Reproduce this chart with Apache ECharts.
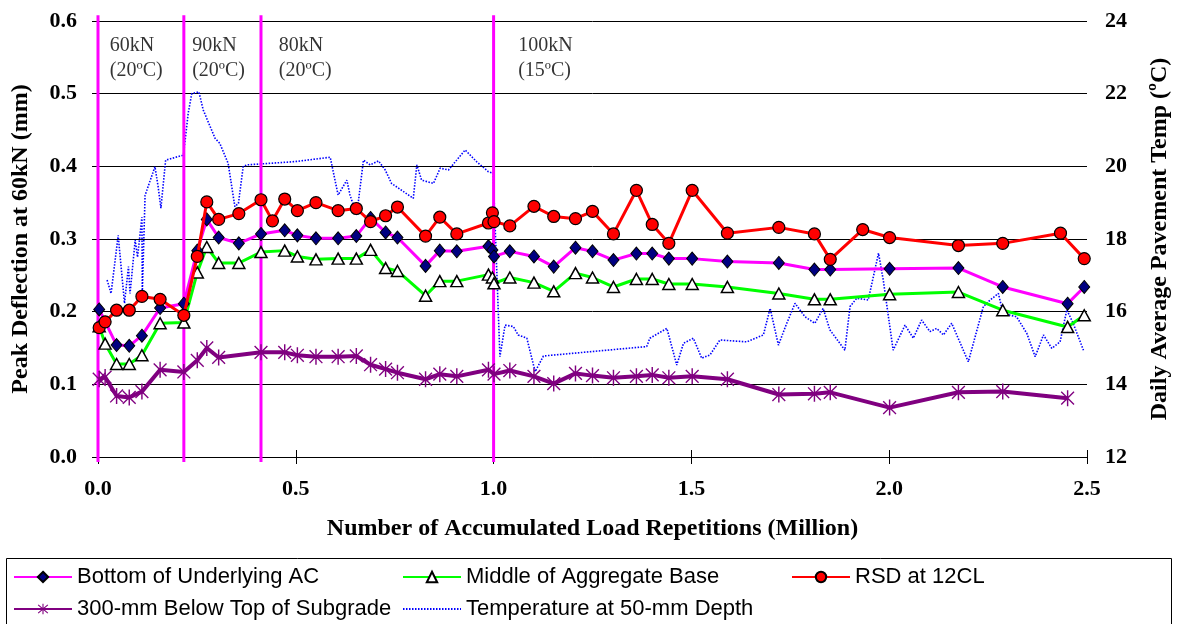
<!DOCTYPE html>
<html>
<head>
<meta charset="utf-8">
<script src="https://cdn.jsdelivr.net/npm/echarts@6/dist/echarts.min.js"></script>
<style>
html, body { margin: 0; padding: 0; background: #ffffff; }
#chart { width: 1180px; height: 624px; }
</style>
</head>
<body>
<div id="chart"></div>
<script>
// Accumulated load repetitions (million) at each deflection reading
const loadReps = [0.003, 0.018, 0.047, 0.079, 0.111, 0.157, 0.217, 0.251, 0.275, 0.305, 0.356, 0.412,
  0.441, 0.472, 0.504, 0.551, 0.607, 0.653, 0.689, 0.727, 0.757, 0.828, 0.864, 0.907,
  0.987, 0.997, 1.001, 1.041, 1.102, 1.152, 1.207, 1.250, 1.303, 1.361, 1.401, 1.443,
  1.502, 1.591, 1.721, 1.811, 1.851, 1.933, 2.001, 2.175, 2.287, 2.433, 2.451, 2.493];

// Peak deflections at 60 kN (mm); null where a depth was not read
const bottomAC = [0.203, null, 0.154, 0.153, 0.167, 0.205, 0.211, 0.284, 0.327, 0.302, 0.294, 0.307,
  null, 0.312, 0.305, 0.301, 0.301, 0.304, 0.329, 0.309, 0.302, 0.263, 0.284, 0.283,
  0.290, 0.285, 0.276, 0.283, 0.276, 0.262, 0.288, 0.283, 0.271, 0.280, 0.280, 0.273,
  0.273, 0.269, 0.267, 0.258, 0.258, null, 0.259, 0.260, 0.234, null, 0.211, 0.234];

const middleBase = [0.180, 0.156, 0.128, 0.128, 0.140, 0.184, 0.185, 0.254, 0.289, 0.267, 0.267, 0.282,
  null, 0.284, 0.276, 0.272, 0.273, 0.273, 0.285, 0.260, 0.256, 0.222, 0.242, 0.242,
  0.251, 0.247, 0.239, 0.247, 0.240, 0.228, 0.253, 0.247, 0.234, 0.245, 0.245, 0.238,
  0.238, 0.234, 0.225, 0.217, 0.217, null, 0.224, 0.227, 0.202, null, 0.179, 0.195];

const rsd12CL = [0.178, 0.186, 0.202, 0.202, 0.221, 0.217, 0.195, 0.276, 0.351, 0.327, 0.335, 0.354,
  0.325, 0.355, 0.339, 0.350, 0.339, 0.342, 0.324, 0.332, 0.344, 0.304, 0.330, 0.307,
  0.322, 0.336, 0.324, 0.318, 0.345, 0.331, 0.328, 0.338, 0.307, 0.367, 0.320, 0.294,
  0.367, 0.308, 0.316, 0.307, 0.272, 0.313, 0.302, 0.291, 0.294, 0.308, null, 0.273];

const subgrade300 = [0.107, 0.110, 0.084, 0.082, 0.090, 0.120, 0.117, 0.133, 0.150, 0.137, null, 0.144,
  null, 0.144, 0.140, 0.138, 0.138, 0.139, 0.127, 0.121, 0.116, 0.107, 0.114, 0.111,
  0.120, null, 0.114, 0.119, 0.111, 0.101, 0.115, 0.112, 0.109, 0.111, 0.113, 0.109,
  0.111, 0.107, 0.086, 0.087, 0.089, null, 0.068, 0.089, 0.090, null, 0.081, null];

// Daily average pavement temperature at 50 mm depth (°C)
const tempReps = [0.023, 0.033, 0.051, 0.067, 0.077, 0.081, 0.094, 0.100, 0.111, 0.112, 0.119, 0.144,
  0.152, 0.159, 0.171, 0.216, 0.228, 0.237, 0.255, 0.266, 0.296, 0.308, 0.329, 0.346,
  0.355, 0.367, 0.376, 0.498, 0.587, 0.607, 0.629, 0.637, 0.654, 0.671, 0.688, 0.709,
  0.726, 0.742, 0.797, 0.806, 0.818, 0.848, 0.865, 0.886, 0.928, 0.957, 0.987, 0.999,
  1.016, 1.029, 1.050, 1.062, 1.084, 1.105, 1.126, 1.387, 1.395, 1.438, 1.463, 1.480,
  1.505, 1.526, 1.547, 1.572, 1.640, 1.682, 1.699, 1.720, 1.741, 1.762, 1.787, 1.812,
  1.833, 1.850, 1.888, 1.901, 1.918, 1.947, 1.973, 1.985, 2.010, 2.040, 2.061, 2.082,
  2.103, 2.120, 2.137, 2.158, 2.200, 2.238, 2.255, 2.276, 2.288, 2.322, 2.348, 2.369,
  2.390, 2.411, 2.432, 2.449, 2.465, 2.491];
const tempC = [16.87, 16.50, 18.10, 16.23, 17.24, 16.50, 17.97, 17.50, 18.60, 16.50, 19.20, 19.99,
  19.44, 18.85, 20.17, 20.31, 21.46, 22.00, 22.05, 21.55, 20.77, 20.63, 20.08, 18.89,
  18.98, 19.99, 20.04, 20.13, 20.25, 19.21, 19.62, 19.21, 18.66, 20.17, 20.04, 20.15,
  19.90, 19.53, 19.12, 20.04, 19.62, 19.53, 19.95, 19.90, 20.45, 20.13, 19.85, 19.81,
  14.76, 15.63, 15.59, 15.36, 15.27, 14.35, 14.78, 15.04, 15.27, 15.54, 14.53, 15.13,
  15.27, 14.72, 14.81, 15.22, 15.17, 15.36, 16.09, 15.08, 15.68, 16.23, 15.86, 15.68,
  16.09, 15.50, 14.94, 16.14, 16.37, 16.32, 17.61, 16.87, 14.94, 15.63, 15.27, 15.77,
  15.45, 15.54, 15.36, 15.68, 14.62, 16.14, 16.32, 16.50, 15.95, 15.86, 15.40, 14.76,
  15.36, 14.99, 15.17, 16.05, 15.68, 14.94];

// Loading phase boundaries (million reps) and phase captions
const phaseBounds = [0, 0.217, 0.412, 1.0];
const phaseLabelX = [0.030, 0.238, 0.457, 1.062];
const phaseLabels = ['60kN\n(20ºC)', '90kN\n(20ºC)', '80kN\n(20ºC)', '100kN\n(15ºC)'];
const phaseLabelY = 0.583;

// Axis ticks
const deflTicks = { min: 0, max: 0.6, step: 0.1 };
const tempTicks = { min: 12, max: 24, step: 2 };
const repTicks = { min: 0, max: 2.5, step: 0.5 };

const SERIF = 'Liberation Serif';
const SANS = 'Liberation Sans';

const pairs = (xs, ys) => xs.map((x, i) => [x, ys[i]]).filter(p => p[1] !== null);

const ASTERISK = 'path://M9.1,0h1.8v20h-1.8z M2.6,1.4L18.6,17.4L17.4,18.6L1.4,2.6z M17.4,1.4L18.6,2.6L2.6,18.6L1.4,17.4z';

const names = {
  ac: 'Bottom of Underlying AC',
  base: 'Middle of Aggregate Base',
  rsd: 'RSD at 12CL',
  sub: '300-mm Below Top of Subgrade',
  temp: 'Temperature at 50-mm Depth'
};

const chart = echarts.init(document.getElementById('chart'), null, { renderer: 'canvas' });

const legendBase = {
  padding: 0,
  itemWidth: 58,
  itemHeight: 13,
  itemGap: 0,
  textStyle: { fontFamily: SANS, fontSize: 22, color: '#000' },
  selectedMode: false
};

const boundarySeries = phaseBounds.map((b, i) => ({
  name: 'phase' + i,
  type: 'line',
  data: [[b, -0.007], [b, 0.608]],
  showSymbol: false,
  symbol: 'none',
  clip: false,
  silent: true,
  lineStyle: { color: '#ff00ff', width: 3 },
  z: 3
}));

const nameStyle = { fontFamily: SERIF, fontWeight: 'bold', fontSize: 24, color: '#000' };
const tickStyle = { fontFamily: SERIF, fontWeight: 'bold', fontSize: 22, color: '#000' };

const option = {
  animation: false,
  backgroundColor: '#ffffff',
  grid: { left: 98, right: 93, top: 21, bottom: 167, containLabel: false },
  legend: [
    Object.assign({}, legendBase, { data: [names.ac], left: 13, top: 566 }),
    Object.assign({}, legendBase, { data: [names.base], left: 402, top: 566 }),
    Object.assign({}, legendBase, { data: [names.rsd], left: 791, top: 566 }),
    Object.assign({}, legendBase, { data: [names.sub], left: 13, top: 598 }),
    Object.assign({}, legendBase, {
      data: [names.temp], left: 402, top: 598,
      itemStyle: { opacity: 0 }
    })
  ],
  graphic: [{
    type: 'rect',
    shape: { x: 6.5, y: 558.5, width: 1165, height: 90 },
    style: { fill: 'none', stroke: '#000', lineWidth: 1 },
    silent: true
  }],
  xAxis: [{
    type: 'value',
    position: 'bottom',
    min: repTicks.min, max: repTicks.max, interval: repTicks.step,
    name: 'Number of Accumulated Load Repetitions (Million)',
    nameLocation: 'middle',
    nameGap: 60,
    nameTextStyle: nameStyle,
    axisLine: { show: true, lineStyle: { color: '#000', width: 1 } },
    axisTick: { show: true, inside: false, length: 7, lineStyle: { color: '#000' } },
    axisLabel: Object.assign({ margin: 21, formatter: v => v.toFixed(1) }, tickStyle),
    splitLine: { show: false }
  }, {
    type: 'value',
    position: 'bottom',
    min: repTicks.min, max: repTicks.max, interval: repTicks.step,
    axisLine: { show: false },
    axisTick: { show: true, inside: true, length: 7, lineStyle: { color: '#000' } },
    axisLabel: { show: false },
    splitLine: { show: false }
  }],
  yAxis: [{
    type: 'value',
    position: 'left',
    min: deflTicks.min, max: deflTicks.max, interval: deflTicks.step,
    name: 'Peak Deflection at 60kN (mm)',
    nameLocation: 'middle',
    nameGap: 65,
    nameTextStyle: nameStyle,
    axisLine: { show: true, lineStyle: { color: '#000', width: 1 } },
    axisTick: { show: true, inside: false, length: 6, lineStyle: { color: '#000' } },
    axisLabel: Object.assign({ margin: 21, formatter: v => v.toFixed(1) }, tickStyle),
    splitLine: { show: true, lineStyle: { color: '#000', width: 1 } }
  }, {
    type: 'value',
    position: 'right',
    min: tempTicks.min, max: tempTicks.max, interval: tempTicks.step,
    name: 'Daily Average Pavement Temp (ºC)',
    nameLocation: 'middle',
    nameGap: 61,
    nameTextStyle: nameStyle,
    axisLine: { show: true, lineStyle: { color: '#000', width: 1 } },
    axisTick: { show: true, inside: false, length: 8, lineStyle: { color: '#000' } },
    axisLabel: Object.assign({ margin: 18 }, tickStyle),
    splitLine: { show: false }
  }],
  series: [
    {
      name: names.temp,
      type: 'line',
      yAxisIndex: 1,
      data: pairs(tempReps, tempC),
      showSymbol: false,
      symbol: 'none',
      lineStyle: { color: '#0000ff', width: 1.6, type: [1.5, 1.5] },
      itemStyle: { color: '#0000ff' },
      z: 2
    },
    ...boundarySeries,
    {
      name: names.sub,
      type: 'line',
      data: pairs(loadReps, subgrade300),
      connectNulls: true,
      symbol: ASTERISK,
      symbolKeepAspect: true,
      symbolSize: 16,
      lineStyle: { color: '#800080', width: 4 },
      itemStyle: { color: '#800080' },
      z: 4
    },
    {
      name: names.base,
      type: 'line',
      data: pairs(loadReps, middleBase),
      connectNulls: true,
      symbol: 'triangle',
      symbolSize: [12, 11],
      lineStyle: { color: '#00ff00', width: 3 },
      itemStyle: { color: '#ffffff', borderColor: '#000', borderWidth: 1.5 },
      z: 5
    },
    {
      name: names.ac,
      type: 'line',
      data: pairs(loadReps, bottomAC),
      connectNulls: true,
      symbol: 'diamond',
      symbolSize: [11, 13],
      lineStyle: { color: '#ff00ff', width: 3 },
      itemStyle: { color: '#000080', borderColor: '#000', borderWidth: 1 },
      z: 6
    },
    {
      name: names.rsd,
      type: 'line',
      data: pairs(loadReps, rsd12CL),
      connectNulls: true,
      symbol: 'circle',
      symbolSize: 12,
      lineStyle: { color: '#ff0000', width: 3 },
      itemStyle: { color: '#ff0000', borderColor: '#000', borderWidth: 1.2 },
      z: 7
    },
    {
      name: 'phases',
      type: 'scatter',
      data: phaseLabelX.map((x, i) => ({ value: [x, phaseLabelY], name: phaseLabels[i] })),
      symbolSize: 0,
      silent: true,
      label: {
        show: true,
        position: [0, 0],
        align: 'left',
        verticalAlign: 'top',
        formatter: '{b}',
        fontFamily: SERIF,
        fontSize: 20,
        lineHeight: 25,
        color: '#000'
      },
      z: 8
    }
  ]
};

chart.setOption(option);
</script>
</body>
</html>
